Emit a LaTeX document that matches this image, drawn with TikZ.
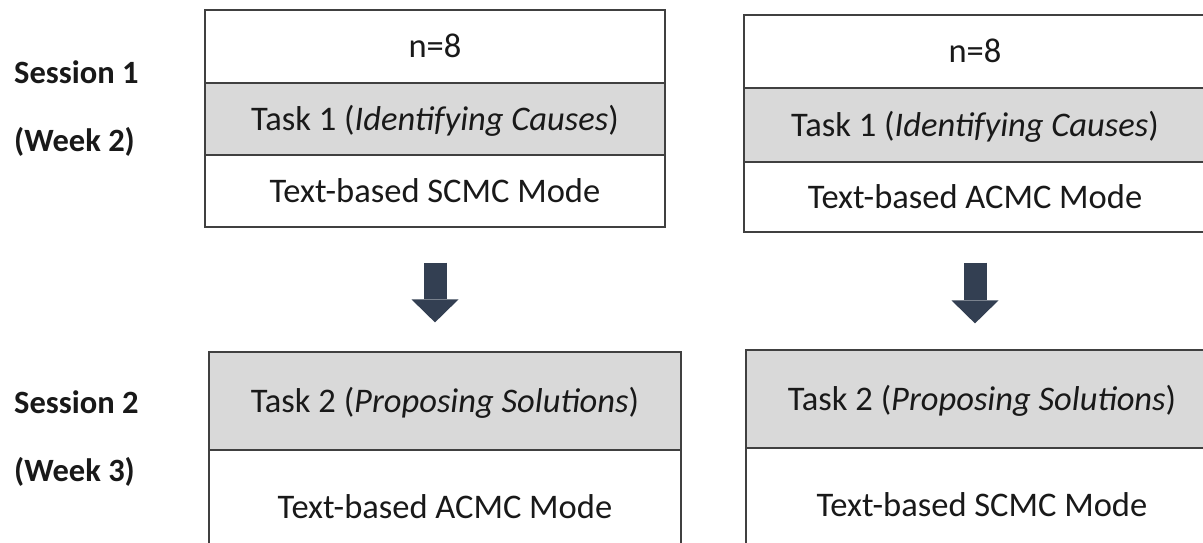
\documentclass[tikz,border=0pt]{standalone}
\usepackage{fontspec}
\setmainfont{Carlito}
\usepackage{xcolor}
\usetikzlibrary{arrows.meta}
\definecolor{cellgray}{RGB}{217,217,217}
\definecolor{linegray}{RGB}{64,64,64}
\definecolor{arrowblue}{RGB}{51,63,82}

\begin{document}
\begin{tikzpicture}[x=1pt, y=-1pt,
    row/.style={draw=linegray, line width=1.2pt, fill=white, text=black!90,
        font=\fontsize{34.5}{41}\selectfont, text height=22pt, text depth=0pt},
    grayrow/.style={row, fill=cellgray},
    sesslabel/.style={anchor=base west, inner sep=0pt, text=black!90,
        font=\fontsize{32.5}{39}\selectfont\bfseries},
    bigarrow/.style={draw=arrowblue, line width=23pt,
        -{Triangle[width=47pt,length=23pt,line width=0pt]}}]
    \clip (0,0) rectangle (1203,542);

    \node[sesslabel] (s1) at (14,83) {Session 1};
    \node[sesslabel] (w2) at (14,151) {(Week 2)};
    \node[sesslabel] (s2) at (14,413) {Session 2};
    \node[sesslabel] (w3) at (14,481) {(Week 3)};

    \node[row, minimum width=460pt, minimum height=73pt] (n1) at (435,46.5) {n=8};
    \node[grayrow, minimum width=460pt, minimum height=72pt] (t1a) at (435,119) {Task 1 (\textit{Identifying Causes})};
    \node[row, minimum width=460pt, minimum height=72pt] (m1a) at (435,191) {Text-based SCMC Mode};

    \node[row, minimum width=462pt, minimum height=73pt] (n2) at (975,51.5) {n=8};
    \node[grayrow, minimum width=462pt, minimum height=74pt] (t1b) at (975,125) {Task 1 (\textit{Identifying Causes})};
    \node[row, minimum width=462pt, minimum height=70pt] (m1b) at (975,197) {Text-based ACMC Mode};

    \node[grayrow, minimum width=472pt, minimum height=98pt] (t2a) at (445,401) {Task 2 (\textit{Proposing Solutions})};
    \node[row, minimum width=472pt, minimum height=114pt] (m2a) at (445,507) {Text-based ACMC Mode};

    \node[grayrow, minimum width=472pt, minimum height=98pt] (t2b) at (982,399) {Task 2 (\textit{Proposing Solutions})};
    \node[row, minimum width=472pt, minimum height=114pt] (m2b) at (982,505) {Text-based SCMC Mode};

    \draw[bigarrow, shorten <=35pt, shorten >=29pt] (m1a.south) -- (m1a.south |- t2a.north);
    \draw[bigarrow, shorten <=30pt, shorten >=26pt] (m1b.south) -- (m1b.south |- t2b.north);
\end{tikzpicture}
\end{document}
